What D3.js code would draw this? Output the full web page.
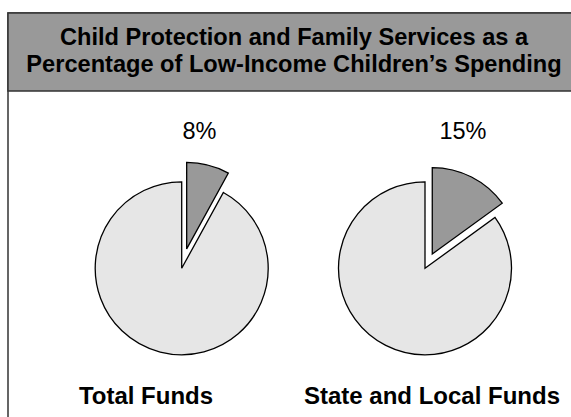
<!DOCTYPE html>
<html>
<head>
<meta charset="utf-8">
<script src="https://cdn.jsdelivr.net/npm/d3@7"></script>
<style>
  html, body { margin: 0; padding: 0; background: #fff; }
  svg { display: block; }
</style>
</head>
<body>
<svg id="chart" width="571" height="417"></svg>
<script>
// Chart data
const titleLines = ["Child Protection and Family Services as a",
                    "Percentage of Low-Income Children\u2019s Spending"];
const pieNames = ["Total Funds", "State and Local Funds"];
const sliceShares = [8, 15];           // child protection & family services, %
const sliceLabels = ["8%", "15%"];

// Layout
const W = 571, H = 417;
const frame = { x: 8, y: 13, w: 572, h: 420 };
const bandH = 78;
const radius = 86.5;
const centers = [{ x: 181.7, y: 268.3 }, { x: 425, y: 268.3 }];
const explode = [20, 16];
const pctPos = [{ x: 199.5, y: 138.5 }, { x: 463, y: 139 }];
const namePos = [{ x: 146, y: 404 }, { x: 432, y: 404 }];

const svg = d3.select("#chart");
const font = "'Liberation Sans', Arial, Helvetica, sans-serif";

// Outer frame and title band
svg.append("rect")
  .attr("x", frame.x).attr("y", frame.y)
  .attr("width", frame.w).attr("height", frame.h)
  .attr("fill", "#fff").attr("stroke", "#333").attr("stroke-width", 1.5);
svg.append("rect")
  .attr("x", frame.x).attr("y", frame.y)
  .attr("width", frame.w).attr("height", bandH)
  .attr("fill", "#999999").attr("stroke", "#333").attr("stroke-width", 1.5);

const titleCx = frame.x + frame.w / 2 - 0;
svg.selectAll("text.title").data(titleLines).join("text")
  .attr("class", "title")
  .attr("x", titleCx)
  .attr("y", (d, i) => 45 + i * 27)
  .attr("text-anchor", "middle")
  .attr("font-family", font).attr("font-weight", "bold")
  .attr("font-size", "23.6px").attr("fill", "#000")
  .text(d => d);

// Pies: the share slice first (clockwise from 12 o'clock), rest after it
const pie = d3.pie().sort(null).value(d => d.v);
const arc = d3.arc().innerRadius(0).outerRadius(radius);
const fills = ["#999999", "#e6e6e6"];

sliceShares.forEach((share, i) => {
  const arcs = pie([{ v: share }, { v: 100 - share }]);
  const g = svg.append("g")
    .attr("transform", `translate(${centers[i].x},${centers[i].y})`);
  g.selectAll("path").data(arcs).join("path")
    .attr("d", arc)
    .attr("fill", (d, j) => fills[j])
    .attr("stroke", "#000").attr("stroke-width", 1.3)
    .attr("stroke-linejoin", "miter")
    .attr("transform", (d, j) => {
      if (j !== 0) return null;
      const mid = (d.startAngle + d.endAngle) / 2;
      return `translate(${explode[i] * Math.sin(mid)},${-explode[i] * Math.cos(mid)})`;
    });

  svg.append("text")
    .attr("x", pctPos[i].x).attr("y", pctPos[i].y)
    .attr("text-anchor", "middle")
    .attr("font-family", font).attr("font-size", "23.5px").attr("fill", "#000")
    .text(sliceLabels[i]);

  svg.append("text")
    .attr("x", namePos[i].x).attr("y", namePos[i].y)
    .attr("text-anchor", "middle")
    .attr("font-family", font).attr("font-weight", "bold")
    .attr("font-size", "24px").attr("fill", "#000")
    .text(pieNames[i]);
});
</script>
</body>
</html>
